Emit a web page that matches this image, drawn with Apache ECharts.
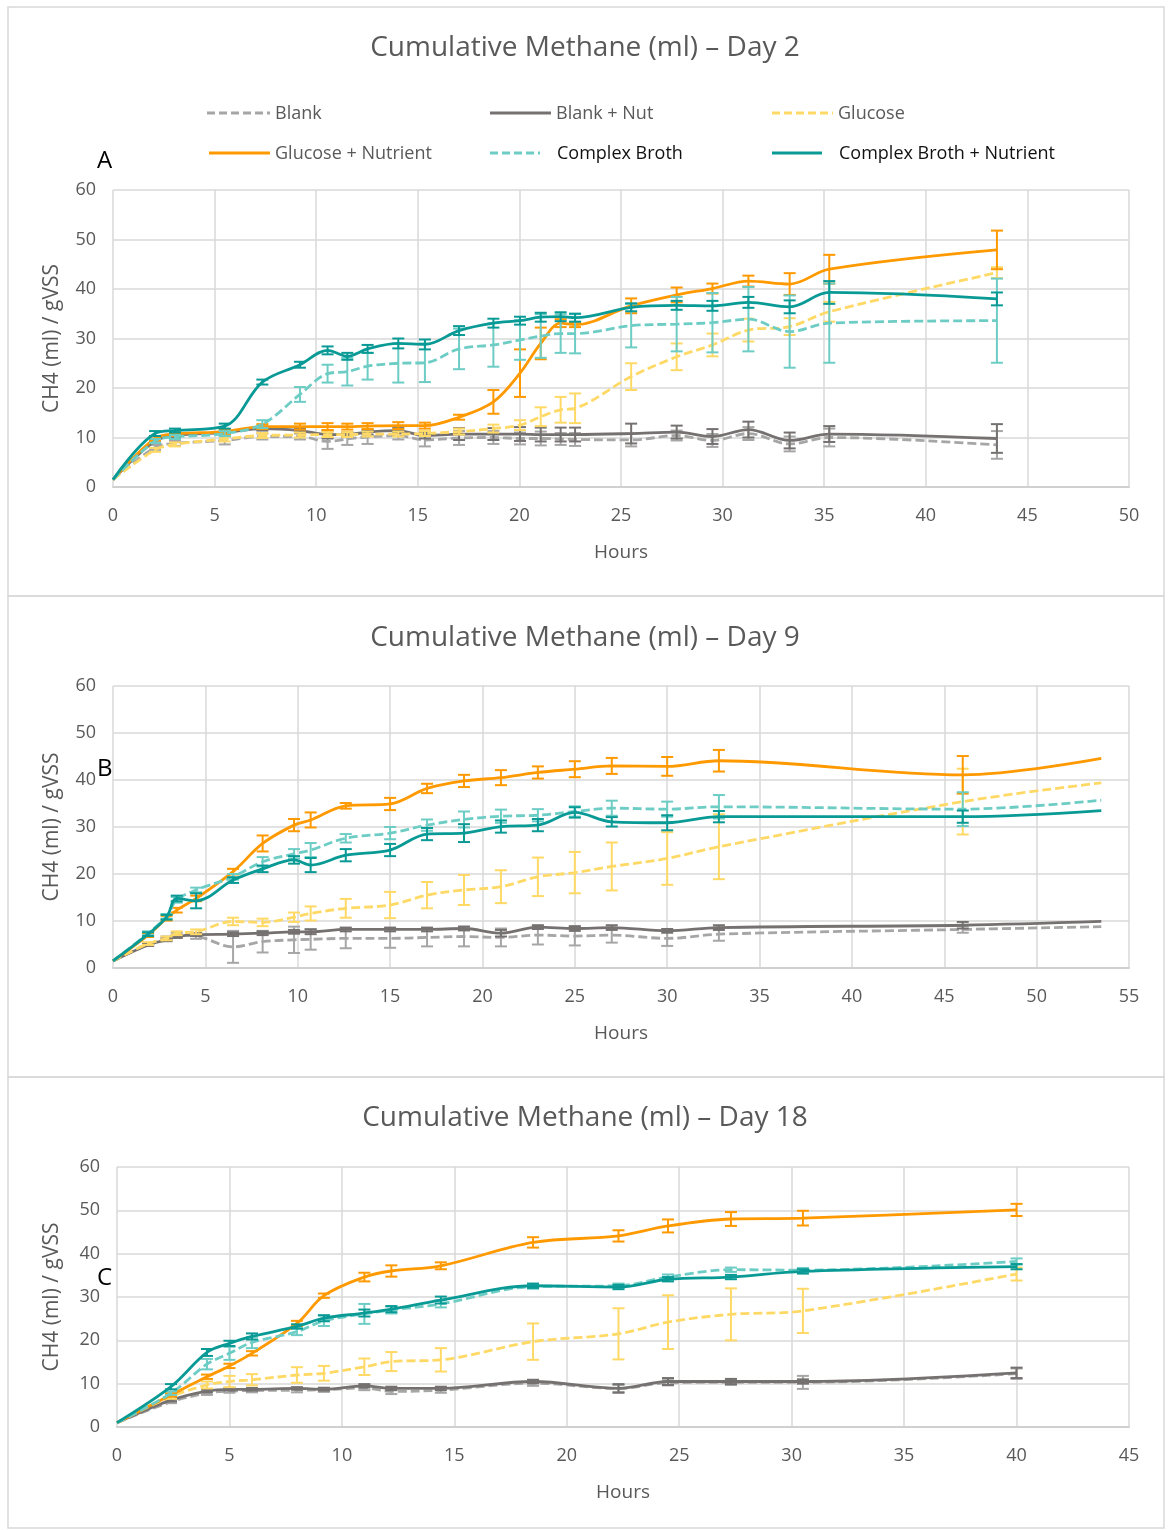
<!DOCTYPE html>
<html>
<head>
<meta charset="utf-8">
<script src="https://cdn.jsdelivr.net/npm/echarts@6/dist/echarts.min.js"></script>
<style>
html,body{margin:0;padding:0;background:#fff;}
#chart{width:1170px;height:1530px;}
</style>
</head>
<body>
<div id="chart"></div>
<script>
// ---------------- DATA ----------------
const seriesNames = ['Blank', 'Blank + Nut', 'Glucose', 'Glucose + Nutrient', 'Complex Broth', 'Complex Broth + Nutrient'];
const panelTitles = ['Cumulative Methane (ml) \u2013 Day 2', 'Cumulative Methane (ml) \u2013 Day 9', 'Cumulative Methane (ml) \u2013 Day 18'];
const panelLetters = ['A', 'B', 'C'];
const xMaxes = [50, 55, 45];
const yTicks = [0, 10, 20, 30, 40, 50, 60];

// Panel A (Day 2)
const hoursA = [0, 2.07, 3.05, 5.5, 7.35, 9.2, 10.56, 11.53, 12.53, 14.04, 15.35, 17.03, 18.72, 20.03, 21.05, 22.03, 22.74, 25.5, 27.74, 29.5, 31.27, 33.3, 35.25, 43.5];
const blankA = [1.5, 8.0, 8.8, 9.4, 10.2, 10.2, 9.2, 9.7, 10.1, 10.4, 9.5, 9.9, 10.0, 9.8, 9.8, 9.7, 9.6, 9.5, 10.4, 9.4, 10.8, 8.7, 10.0, 8.5];
const blankAErr = [0, 0.5, 0.5, 0.8, 0.6, 0.6, 1.5, 1.2, 1.4, 0.8, 1.3, 1.4, 1.3, 1.2, 1.4, 1.2, 1.3, 1.3, 1.0, 1.3, 1.3, 1.5, 1.8, 2.8];
const blankNutA = [1.5, 9.3, 10.4, 11.0, 11.8, 11.4, 10.6, 10.6, 11.1, 11.4, 10.4, 10.7, 10.7, 10.7, 10.6, 10.6, 10.6, 10.8, 11.1, 10.2, 11.6, 9.4, 10.7, 9.8];
const blankNutAErr = [0, 0.3, 0.3, 0.4, 0.4, 0.4, 0.8, 0.5, 0.5, 0.5, 0.6, 1.2, 1.2, 1.4, 1.4, 1.4, 1.4, 2.0, 1.3, 1.5, 1.6, 1.6, 1.6, 2.9];
const glucoseA = [1.5, 7.5, 8.6, 9.7, 10.4, 10.5, 10.6, 10.6, 10.7, 10.7, 10.8, 11.2, 11.8, 12.5, 14.2, 15.6, 15.9, 22.3, 26.3, 28.7, 31.7, 32.4, 35.4, 43.3];
const glucoseAErr = [0, 0.4, 0.4, 0.5, 0.5, 0.5, 0.5, 0.5, 0.5, 0.5, 0.5, 0.6, 0.8, 1.0, 1.9, 2.6, 3.0, 2.7, 2.7, 2.3, 2.3, 1.7, 2.0, 1.1];
const glucoseNutA = [1.5, 9.8, 10.7, 11.2, 12.2, 12.2, 12.2, 12.2, 12.3, 12.4, 12.4, 14.1, 17.2, 23.0, 29.0, 33.1, 32.8, 36.6, 38.8, 40.1, 41.6, 41.0, 44.0, 47.9];
const glucoseNutAErr = [0, 0.4, 0.4, 0.5, 0.5, 0.6, 0.7, 0.6, 0.6, 0.7, 0.6, 0.5, 2.4, 4.8, 3.2, 0.8, 0.5, 1.5, 1.5, 1.0, 1.1, 2.2, 2.9, 3.9];
const cbA = [1.5, 9.3, 10.1, 10.8, 12.7, 18.7, 22.9, 23.3, 24.4, 25.0, 25.1, 27.9, 28.7, 29.7, 30.5, 31.0, 31.0, 32.6, 32.9, 33.2, 33.9, 31.4, 33.1, 33.6];
const cbAErr = [0, 0.4, 0.4, 0.5, 0.8, 1.5, 1.8, 2.8, 2.7, 3.9, 3.9, 4.1, 4.4, 4.0, 4.4, 3.9, 4.0, 4.4, 5.5, 6.0, 6.5, 7.3, 8.0, 8.5];
const cbNutA = [1.5, 10.8, 11.4, 12.3, 21.2, 24.7, 27.6, 26.4, 27.9, 29.0, 28.8, 31.6, 33.1, 33.6, 34.3, 34.4, 34.2, 36.3, 36.7, 36.6, 37.3, 36.4, 39.3, 38.0];
const cbNutAErr = [0, 0.5, 0.4, 0.5, 0.5, 0.6, 0.8, 0.7, 0.8, 1.0, 1.0, 0.9, 0.9, 0.8, 0.9, 0.9, 0.8, 0.8, 0.9, 1.0, 1.1, 1.3, 2.3, 1.3];

// Panel B (Day 9)
const hoursB = [0, 1.9, 2.9, 3.45, 4.5, 6.5, 8.1, 9.8, 10.7, 12.6, 15, 17, 19, 21, 23, 25, 27, 30, 32.8, 46, 53.5];
const blankB = [1.5, 5.0, 6.3, 7.0, 6.8, 4.5, 5.6, 6.0, 6.1, 6.3, 6.3, 6.5, 6.7, 6.5, 7.0, 6.8, 7.0, 6.3, 7.2, 8.2, 8.8];
const blankBErr = [0, 0.3, 0.4, 0.5, 0.6, 3.4, 2.3, 2.8, 2.2, 2.1, 2.0, 1.9, 2.1, 1.9, 2.0, 2.0, 1.6, 1.6, 1.4, 0.7, 0];
const blankNutB = [1.5, 4.9, 6.0, 6.7, 7.1, 7.2, 7.4, 7.7, 7.7, 8.2, 8.2, 8.2, 8.4, 7.4, 8.7, 8.4, 8.6, 7.9, 8.6, 9.1, 9.9];
const blankNutBErr = [0, 0.2, 0.3, 0.3, 0.3, 0.4, 0.4, 0.4, 0.5, 0.4, 0.4, 0.4, 0.4, 0.7, 0.4, 0.5, 0.5, 0.4, 0.5, 0.7, 0];
const glucoseB = [1.5, 5.2, 6.3, 7.4, 7.7, 9.9, 9.7, 10.8, 11.6, 12.7, 13.4, 15.5, 16.6, 17.3, 19.4, 20.3, 21.6, 23.3, 25.8, 35.4, 39.4];
const glucoseBErr = [0, 0.3, 0.4, 0.4, 0.5, 0.8, 0.8, 1.0, 1.5, 2.0, 2.8, 2.8, 3.2, 3.5, 4.1, 4.4, 5.1, 5.6, 6.9, 7.0, 0];
const glucoseNutB = [1.5, 7.0, 10.6, 12.3, 14.8, 20.5, 26.5, 30.4, 31.5, 34.5, 34.9, 38.2, 39.8, 40.5, 41.6, 42.3, 43.0, 42.9, 44.1, 41.1, 44.6];
const glucoseNutBErr = [0, 0.4, 0.5, 0.5, 0.6, 0.6, 1.7, 1.3, 1.6, 0.6, 1.3, 1.0, 1.3, 1.6, 1.3, 1.7, 1.7, 2.0, 2.3, 4.0, 0];
const cbB = [1.5, 7.4, 11.0, 14.5, 16.6, 19.4, 22.6, 24.3, 25.1, 27.6, 28.7, 30.4, 31.6, 32.3, 32.5, 33.3, 34.0, 33.8, 34.3, 33.8, 35.7];
const cbBErr = [0, 0.4, 0.5, 0.6, 0.5, 0.6, 1.0, 1.0, 1.5, 0.9, 1.3, 1.2, 1.7, 1.4, 1.3, 1.1, 1.6, 1.6, 2.5, 3.6, 0];
const cbNutB = [1.5, 7.2, 10.8, 14.8, 14.3, 18.7, 21.1, 23.0, 21.9, 24.0, 25.1, 28.5, 28.7, 30.1, 30.4, 33.1, 31.1, 30.9, 32.2, 32.2, 33.5];
const cbNutBErr = [0, 0.4, 0.5, 0.6, 1.6, 0.6, 0.7, 0.8, 1.5, 1.3, 1.3, 1.3, 1.9, 1.3, 1.3, 1.1, 1.0, 1.6, 1.2, 1.3, 0];

// Panel C (Day 18)
const hoursC = [0, 2.4, 4, 5, 6, 8, 9.2, 11, 12.2, 14.4, 18.5, 22.3, 24.5, 27.3, 30.5, 40];
const blankC = [1.0, 5.8, 7.8, 8.3, 8.4, 8.5, 8.6, 9.0, 8.2, 8.5, 10.1, 8.9, 10.2, 10.3, 10.3, 12.3];
const blankCErr = [0, 0.3, 0.4, 0.4, 0.4, 0.5, 0.5, 0.5, 0.6, 0.6, 0.6, 0.8, 0.6, 0.6, 1.5, 1.2];
const blankNutC = [1.0, 6.2, 8.3, 8.7, 8.7, 8.9, 8.7, 9.5, 8.9, 8.9, 10.5, 8.9, 10.5, 10.5, 10.5, 12.5];
const blankNutCErr = [0, 0.3, 0.3, 0.3, 0.3, 0.3, 0.3, 0.4, 0.4, 0.4, 0.4, 1.0, 0.8, 0.6, 0.5, 1.2];
const glucoseC = [1.0, 7.0, 9.7, 10.5, 10.9, 12.0, 12.4, 13.9, 15.1, 15.5, 19.7, 21.5, 24.2, 26.0, 26.8, 35.3];
const glucoseCErr = [0, 0.5, 0.8, 1.3, 1.3, 1.8, 1.7, 1.9, 2.2, 2.7, 4.2, 5.9, 6.2, 6.0, 5.1, 1.5];
const glucoseNutC = [1.0, 7.4, 11.6, 14.1, 17.0, 23.9, 30.3, 34.6, 36.0, 37.2, 42.6, 44.1, 46.4, 48.0, 48.2, 50.1];
const glucoseNutCErr = [0, 0.4, 0.5, 0.5, 0.5, 0.6, 0.5, 1.0, 1.3, 0.8, 1.2, 1.3, 1.5, 1.6, 1.7, 1.4];
const cbC = [1.0, 7.8, 14.5, 17.0, 19.5, 22.0, 24.5, 26.1, 27.0, 28.4, 32.4, 32.6, 34.6, 36.3, 36.2, 38.2];
const cbCErr = [0, 0.4, 1.2, 1.5, 1.3, 0.8, 1.2, 2.3, 0.8, 0.8, 0.5, 0.5, 0.6, 0.5, 0.5, 0.7];
const cbNutC = [1.0, 9.3, 17.2, 19.3, 20.9, 23.2, 25.1, 26.3, 27.2, 29.3, 32.6, 32.3, 34.1, 34.6, 35.9, 37.0];
const cbNutCErr = [0, 0.6, 0.8, 0.6, 0.7, 0.5, 0.7, 0.8, 0.7, 0.8, 0.5, 0.5, 0.5, 0.5, 0.5, 0.6];

// ---------------- STYLE ----------------
const colors = ['#a6a6a6', '#767171', '#ffd966', '#ff9900', '#6dcdc5', '#0a9a96'];
const dashed = [true, false, true, false, true, false];
const FONT = 'Open Sans';
const GREY = '#595959';

const panels = [
  { hours: hoursA, vals: [blankA, blankNutA, glucoseA, glucoseNutA, cbA, cbNutA], errs: [blankAErr, blankNutAErr, glucoseAErr, glucoseNutAErr, cbAErr, cbNutAErr] },
  { hours: hoursB, vals: [blankB, blankNutB, glucoseB, glucoseNutB, cbB, cbNutB], errs: [blankBErr, blankNutBErr, glucoseBErr, glucoseNutBErr, cbBErr, cbNutBErr] },
  { hours: hoursC, vals: [blankC, blankNutC, glucoseC, glucoseNutC, cbC, cbNutC], errs: [blankCErr, blankNutCErr, glucoseCErr, glucoseNutCErr, cbCErr, cbNutCErr] }
];

const gridBoxes = [
  { left: 113, top: 190, width: 1016, height: 297, titleY: 47, letterY: 160, nameGapY: 50 },
  { left: 113, top: 686, width: 1016, height: 282, titleY: 637, letterY: 768, nameGapY: 50 },
  { left: 117, top: 1167, width: 1012, height: 260, titleY: 1117, letterY: 1277, nameGapY: 54 }
];

function makeErrRenderer(color) {
  return function (params, api) {
    const x = api.value(0), lo = api.value(1), hi = api.value(2);
    const a = api.coord([x, lo]), b = api.coord([x, hi]);
    const w = 6;
    const style = { stroke: color, lineWidth: 2 };
    return {
      type: 'group',
      children: [
        { type: 'line', shape: { x1: a[0], y1: a[1], x2: b[0], y2: b[1] }, style: style },
        { type: 'line', shape: { x1: a[0] - w, y1: a[1], x2: a[0] + w, y2: a[1] }, style: style },
        { type: 'line', shape: { x1: b[0] - w, y1: b[1], x2: b[0] + w, y2: b[1] }, style: style }
      ]
    };
  };
}

const grids = [], xAxes = [], yAxes = [], series = [], graphics = [];

gridBoxes.forEach(function (g, p) {
  grids.push({ left: g.left, top: g.top, width: g.width, height: g.height, containLabel: false });
  xAxes.push({
    type: 'value', gridIndex: p, min: 0, max: xMaxes[p], interval: 5,
    name: 'Hours', nameLocation: 'middle', nameGap: 56,
    nameTextStyle: { color: GREY, fontSize: 19, fontFamily: FONT },
    axisLine: { show: true, lineStyle: { color: '#d0d0d0', width: 2 } },
    axisTick: { show: false },
    axisLabel: { color: GREY, fontSize: 18, fontFamily: FONT, margin: 20 },
    splitLine: { show: true, lineStyle: { color: '#d9d9d9', width: 1.5 } }
  });
  yAxes.push({
    type: 'value', gridIndex: p, min: yTicks[0], max: yTicks[yTicks.length - 1], interval: 10,
    name: 'CH4 (ml) / gVSS', nameLocation: 'middle', nameGap: g.nameGapY, nameRotate: 90,
    nameTextStyle: { color: GREY, fontSize: 21, fontFamily: FONT },
    axisLine: { show: false },
    axisTick: { show: false },
    axisLabel: { color: GREY, fontSize: 18, fontFamily: FONT, margin: 17 },
    splitLine: { show: true, lineStyle: { color: '#d9d9d9', width: 1.5 } }
  });

  const pd = panels[p];
  seriesNames.forEach(function (name, s) {
    series.push({
      type: 'line', name: name, xAxisIndex: p, yAxisIndex: p,
      data: pd.hours.map(function (h, i) { return [h, pd.vals[s][i]]; }),
      smooth: 0.35, symbol: 'none', showSymbol: false,
      lineStyle: { color: colors[s], width: 2.8, type: dashed[s] ? [9, 4] : 'solid' },
      itemStyle: { color: colors[s] },
      z: 3 + s, animation: false
    });
    const errData = [];
    pd.hours.forEach(function (h, i) {
      const e = pd.errs[s][i];
      if (e > 0) errData.push([h, pd.vals[s][i] - e, pd.vals[s][i] + e]);
    });
    series.push({
      type: 'custom', name: 'err ' + name, xAxisIndex: p, yAxisIndex: p,
      data: errData, encode: { x: 0, y: [1, 2] },
      renderItem: makeErrRenderer(colors[s]),
      clip: false, z: 3 + s, animation: false, silent: true
    });
  });

  graphics.push({
    type: 'text', left: 'center', top: g.titleY - 13, z: 100,
    style: { text: panelTitles[p], fill: GREY, fontSize: 28, fontFamily: FONT }
  });
  graphics.push({
    type: 'text', x: 97, y: g.letterY - 11, z: 100,
    style: { text: panelLetters[p], fill: '#000', fontSize: 24, fontFamily: FONT }
  });
});

// panel borders
graphics.push({ type: 'rect', z: -10, shape: { x: 8, y: 7, width: 1156, height: 589 }, style: { fill: 'none', stroke: '#d9d9d9', lineWidth: 1.5 } });
graphics.push({ type: 'rect', z: -10, shape: { x: 8, y: 596, width: 1156, height: 481 }, style: { fill: 'none', stroke: '#d9d9d9', lineWidth: 1.5 } });
graphics.push({ type: 'rect', z: -10, shape: { x: 8, y: 1077, width: 1156, height: 451 }, style: { fill: 'none', stroke: '#d9d9d9', lineWidth: 1.5 } });

// legend (drawn as graphic keys placed like the reference)
const legendPos = [
  { x0: 207, x1: 270, tx: 275, y: 113, color: GREY },
  { x0: 490, x1: 551, tx: 556, y: 113, color: GREY },
  { x0: 772, x1: 833, tx: 838, y: 113, color: GREY },
  { x0: 209, x1: 270, tx: 275, y: 153, color: GREY },
  { x0: 490, x1: 540, tx: 557, y: 153, color: '#111' },
  { x0: 772, x1: 822, tx: 839, y: 153, color: '#111' }
];
legendPos.forEach(function (lp, i) {
  graphics.push({
    type: 'line', z: 100,
    shape: { x1: lp.x0, y1: lp.y, x2: lp.x1, y2: lp.y },
    style: { stroke: colors[i], lineWidth: 3, lineDash: dashed[i] ? [8, 4] : null }
  });
  graphics.push({
    type: 'text', z: 100, x: lp.tx, y: lp.y + 1,
    style: { text: seriesNames[i], fill: lp.color, fontSize: 18, fontFamily: FONT, verticalAlign: 'middle', textVerticalAlign: 'middle' }
  });
});

const chart = echarts.init(document.getElementById('chart'), null, { renderer: 'canvas' });
chart.setOption({
  backgroundColor: '#ffffff',
  animation: false,
  grid: grids,
  xAxis: xAxes,
  yAxis: yAxes,
  series: series,
  graphic: graphics
});
</script>
</body>
</html>
